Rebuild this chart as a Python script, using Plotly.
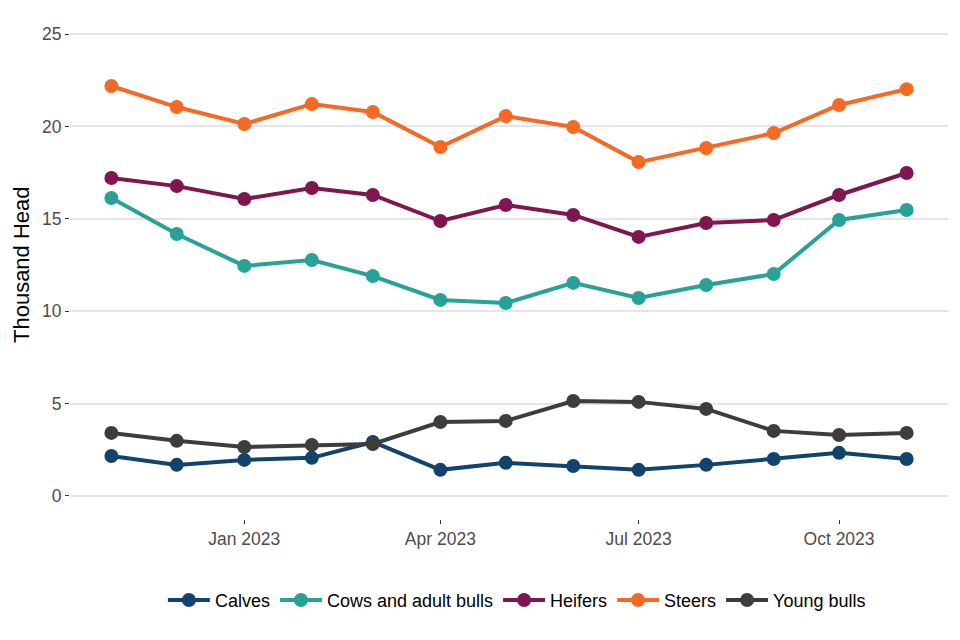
import plotly.graph_objects as go

months = ["2022-11-01", "2022-12-01", "2023-01-01", "2023-02-01", "2023-03-01", "2023-04-01",
          "2023-05-01", "2023-06-01", "2023-07-01", "2023-08-01", "2023-09-01", "2023-10-01",
          "2023-11-01"]

calves = [2.16, 1.68, 1.95, 2.06, 2.92, 1.41, 1.79, 1.62, 1.41, 1.68, 2.00, 2.33, 2.00]
cows_and_adult_bulls = [16.13, 14.18, 12.45, 12.77, 11.90, 10.61, 10.44, 11.53, 10.71, 11.42, 12.01, 14.94, 15.48]
heifers = [17.21, 16.77, 16.07, 16.67, 16.29, 14.88, 15.75, 15.21, 14.02, 14.77, 14.94, 16.29, 17.48]
steers = [22.19, 21.05, 20.13, 21.21, 20.78, 18.89, 20.56, 19.97, 18.07, 18.83, 19.64, 21.16, 22.02]
young_bulls = [3.41, 2.98, 2.65, 2.76, 2.81, 4.00, 4.06, 5.14, 5.09, 4.71, 3.52, 3.30, 3.41]

series_names = ["Calves", "Cows and adult bulls", "Heifers", "Steers", "Young bulls"]
series_values = [calves, cows_and_adult_bulls, heifers, steers, young_bulls]
series_colors = ["#12436D", "#28A197", "#801650", "#F46A25", "#3D3D3D"]

x_tick_vals = ["2023-01-01", "2023-04-01", "2023-07-01", "2023-10-01"]
x_tick_text = ["Jan 2023", "Apr 2023", "Jul 2023", "Oct 2023"]
y_tick_vals = [0, 5, 10, 15, 20, 25]

fig = go.Figure()
for name, vals, col in zip(series_names, series_values, series_colors):
    fig.add_trace(go.Scatter(
        x=months, y=vals, name=name, mode="lines+markers",
        line=dict(color=col, width=4),
        marker=dict(color=col, size=14),
    ))

font_family = "Liberation Sans, Arial, sans-serif"
fig.update_layout(
    width=952, height=632,
    margin=dict(l=62, r=12, t=3, b=121),
    paper_bgcolor="white", plot_bgcolor="white",
    font=dict(family=font_family, color="#4D4D4D", size=17),
    showlegend=True,
    legend=dict(orientation="h", x=0.509, xanchor="center", y=-0.16, yanchor="middle",
                font=dict(size=18, color="black"), itemwidth=42, traceorder="normal"),
    xaxis=dict(
        type="date", range=["2022-10-13", "2023-11-20"],
        tickvals=x_tick_vals, ticktext=x_tick_text,
        showgrid=False, zeroline=False, showline=False, automargin=False,
        ticks="outside", ticklen=4, tickcolor="#333333", tickwidth=1.2,
        tickfont=dict(size=17.5, color="#4D4D4D"),
    ),
    yaxis=dict(
        range=[-1.25, 26.25], tickvals=y_tick_vals,
        showgrid=True, gridcolor="#E5E5E5", gridwidth=1.5,
        zeroline=False, showline=False, automargin=False,
        ticks="outside", ticklen=4, tickcolor="#333333", tickwidth=1.2,
        tickfont=dict(size=17.5, color="#4D4D4D"),
    ),
    annotations=[dict(
        text="Thousand Head", textangle=-90, showarrow=False,
        xref="paper", yref="paper", x=-0.0558, y=0.5,
        xanchor="center", yanchor="middle",
        font=dict(size=22, color="black"),
    )],
)

fig.write_html("out.html")
